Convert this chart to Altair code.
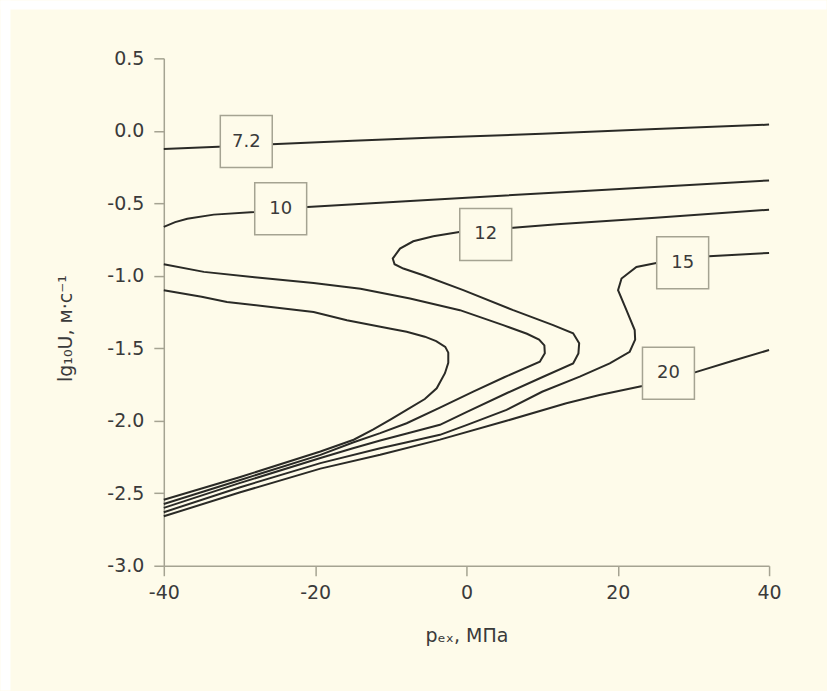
import altair as alt
import pandas as pd

CREAM = "#fefbea"
AXIS = "#a5a392"
INK = "#2a2a26"
TXT = "#3a3a3a"
FONT = "DejaVu Sans"

# contour 7.2
c72_x = [-40, -32, -25, -15, -5, 10, 25, 40]
c72_y = [-0.125, -0.108, -0.09, -0.068, -0.048, -0.02, 0.012, 0.043]
# contour 10
c10_x = [-40, -38.5, -36.9, -33.4, -28, -21, -8, 15, 40]
c10_y = [-0.663, -0.63, -0.606, -0.578, -0.56, -0.526, -0.485, -0.416, -0.342]
# outer C-shaped contour (unlabelled)
ca_x = [-40, -34.7, -28, -20.2, -14, -7.46, -0.86, 4.86, 8, 9.6, 10.3, 10.36, 9.7, 5, 0.9,
        -3.5, -7.9, -11.4, -15, -19.3, -30, -40]
ca_y = [-0.92, -0.973, -1.01, -1.049, -1.09, -1.156, -1.237, -1.34, -1.40, -1.44, -1.48, -1.535,
        -1.593, -1.70, -1.799, -1.91, -2.017, -2.085, -2.15, -2.235, -2.41, -2.574]
# inner C-shaped contour (unlabelled)
cb_x = [-40, -35, -31.65, -25, -20.2, -15.8, -10, -7.9, -5.5, -4.0, -2.8, -2.4, -2.4, -2.84,
        -3.93, -5.5, -7.9, -10, -12.3, -14.9, -19.3, -30, -40]
cb_y = [-1.10, -1.145, -1.18, -1.22, -1.25, -1.306, -1.365, -1.386, -1.42, -1.45, -1.49, -1.53,
        -1.60, -1.672, -1.776, -1.85, -1.925, -1.99, -2.06, -2.131, -2.212, -2.39, -2.545]
# contour 12
c12_x = [40, 25, 12, 6.18, -0.95, -4.38, -7.03, -8.78, -9.74, -9.5, -8.34, -5.7, -0.42, 6.18,
         11.46, 14.1, 14.9, 14.8, 14.1, 10, 5.3, 0, -3.5, -8, -11.4, -15, -19.3, -30, -40]
c12_y = [-0.544, -0.60, -0.645, -0.668, -0.698, -0.727, -0.762, -0.812, -0.881, -0.92, -0.95,
         -0.996, -1.099, -1.237, -1.34, -1.397, -1.466, -1.535, -1.604, -1.70, -1.81, -1.94,
         -2.028, -2.09, -2.136, -2.19, -2.257, -2.43, -2.601]
# contour 15
c15_x = [40, 32.05, 25.1, 22.47, 20.5, 20.04, 21.15, 22.24, 22.3, 21.58, 18.94, 14.98, 10, 5.3,
         0, -3.5, -8, -11.4, -19.3, -30, -40]
c15_y = [-0.842, -0.865, -0.911, -0.939, -1.019, -1.099, -1.237, -1.374, -1.44, -1.524, -1.604,
         -1.696, -1.80, -1.925, -2.03, -2.097, -2.15, -2.189, -2.292, -2.46, -2.631]
# contour 20
c20_x = [40, 35, 30.2, 23.26, 17.6, 13.2, 5.3, -3.5, -11.4, -19.3, -30, -40]
c20_y = [-1.512, -1.59, -1.666, -1.76, -1.822, -1.879, -2.0, -2.13, -2.235, -2.33, -2.495, -2.659]

# contour labels
lab_text = ["7.2", "10", "12", "15", "20"]
lab_x = [-29.1, -24.55, 2.55, 28.58, 26.7]
lab_y = [-0.074, -0.538, -0.715, -0.91, -1.672]

x_ticks = [-40, -20, 0, 20, 40]
y_ticks = [-3.0, -2.5, -2.0, -1.5, -1.0, -0.5, 0.0, 0.5]

curves = [("7.2", c72_x, c72_y), ("10", c10_x, c10_y), ("a", ca_x, ca_y), ("b", cb_x, cb_y),
          ("12", c12_x, c12_y), ("15", c15_x, c15_y), ("20", c20_x, c20_y)]
rows = []
for name, xs_, ys_ in curves:
    for i, (px, uy) in enumerate(zip(xs_, ys_)):
        rows.append({"curve": name, "i": i, "p": px, "u": uy})
df = pd.DataFrame(rows)
labels = pd.DataFrame({"t": lab_text, "p": lab_x, "u": lab_y})

xs = alt.Scale(domain=[-40, 40], nice=False, zero=False)
ys = alt.Scale(domain=[-3, 0.5], nice=False, zero=False)

one = pd.DataFrame({"a": [0]})
# white page margin strips around the cream panel (left and top)
strip_left = alt.Chart(one).mark_rect(color="white").encode(
    x=alt.value(-163.5), x2=alt.value(-153.5), y=alt.value(-58), y2=alt.value(633)
)
strip_top = alt.Chart(one).mark_rect(color="white").encode(
    x=alt.value(-163.5), x2=alt.value(663.5), y=alt.value(-58), y2=alt.value(-49)
)

lines = alt.Chart(df).mark_line(color=INK, strokeWidth=2).encode(
    x=alt.X("p:Q", scale=xs, axis=alt.Axis(
        values=x_ticks,
        labelExpr="replace(format(datum.value, 'd'), '\u2212', '-')",
        labelFlush=False,
        title="p\u2091\u2093, МПа",
        titleY=76, titleBaseline="alphabetic",
        labelPadding=8,
    )),
    y=alt.Y("u:Q", scale=ys, axis=alt.Axis(
        values=y_ticks,
        labelExpr="replace(format(datum.value, '.1f'), '\u2212', '-')",
        labelFlush=False,
        title="lg\u2081\u2080U, м·с\u207b\u00b9",
        titleX=-92, titleY=270, titleAngle=270, titleAlign="center",
        titleBaseline="alphabetic",
        labelPadding=10,
    )),
    detail="curve:N",
    order="i:Q",
)

boxes = alt.Chart(labels).mark_point(
    shape="square", size=2704, filled=False, fill=CREAM, fillOpacity=1,
    stroke=AXIS, strokeWidth=1.5, opacity=1
).encode(x=alt.X("p:Q", scale=xs), y=alt.Y("u:Q", scale=ys))

texts = alt.Chart(labels).mark_text(
    font=FONT, fontSize=18, color=TXT, align="center", baseline="middle"
).encode(x=alt.X("p:Q", scale=xs), y=alt.Y("u:Q", scale=ys), text="t:N")

chart = alt.layer(strip_left, strip_top, lines, boxes, texts).properties(
    width=606, height=508,
    padding=0,
    background=CREAM,
).configure_view(stroke=None).configure_axis(
    grid=False,
    domainColor=AXIS, domainWidth=1.5,
    tickColor=AXIS, tickWidth=1.5, tickSize=10,
    labelFont=FONT, labelFontSize=19, labelColor=TXT,
    titleFont=FONT, titleFontSize=19, titleFontWeight="normal", titleColor=TXT,
)

chart.save("out.html", embed_options={"renderer": "svg", "actions": False})
